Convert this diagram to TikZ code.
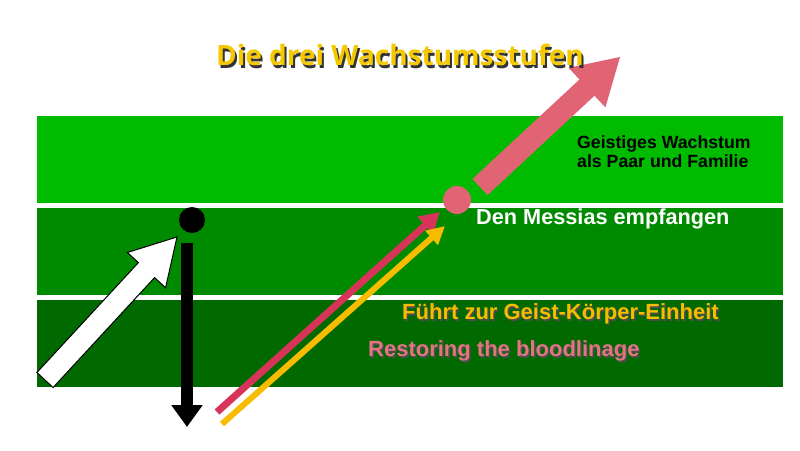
\documentclass[tikz,border=0pt]{standalone}
\usepackage{fontspec}
\setmainfont{Liberation Sans}
\newfontfamily\titlefont{Open Sans}
\usetikzlibrary{arrows.meta}
\definecolor{g1}{HTML}{00BB00}
\definecolor{g2}{HTML}{008A00}
\definecolor{g3}{HTML}{006A00}
\definecolor{pinkc}{HTML}{E06474}
\definecolor{redc}{HTML}{D8345A}
\definecolor{yel}{HTML}{F7BC00}
\definecolor{ttl}{HTML}{F5C800}
\tikzset{
 lbl/.style={anchor=west,font=\bfseries\fontsize{22}{24}\selectfont,inner sep=0}}
\begin{document}
\begin{tikzpicture}[x=1pt,y=-1pt]
\useasboundingbox (0,0) rectangle (800,450);
\fill[g1] (37,116) rectangle (783,203);
\fill[g2] (37,208) rectangle (783,295);
\fill[g3] (37,300) rectangle (783,387);
% white block arrow
\draw[fill=white,draw=black,line width=1pt,line join=miter]
 (53.1,387.5) -- (154.6,277.6) -- (165.6,287.7) -- (177,237) -- (127.4,252.5) -- (138.4,262.6) -- (36.9,372.5) -- cycle;
% black arrow
\coordinate (bs) at (187,243);
\coordinate (be) at (187,427);
\draw[line width=12pt,-{Triangle[width=30pt,length=22pt]}] (bs) -- (be);
\node[circle,fill=black,minimum size=26pt,inner sep=0] (bc) at (192,220) {};
% red and yellow
\coordinate (rs) at (217,412); \coordinate (re) at (440,212);
\coordinate (ys) at (222,424); \coordinate (ye) at (445,226);
\draw[redc,line width=7pt,-{Triangle[width=22pt,length=20pt]}] (rs) -- (re);
\draw[yel,line width=6pt,-{Triangle[width=18pt,length=18pt]}] (ys) -- (ye);
\node[circle,fill=pinkc,minimum size=28pt,inner sep=0] (pc) at (457,200) {};
% big pink arrow
\fill[pinkc] (487.5,195.1) -- (594.5,95.7) -- (605.4,107.4) -- (620,57) -- (568.6,67.8) -- (579.5,79.5) -- (472.5,178.9) -- cycle;
% texts
\node[font=\titlefont\bfseries\fontsize{28}{32}\selectfont,text=black!80,inner sep=0] at (402,57.5) {Die drei Wachstumsstufen};
\node[font=\titlefont\bfseries\fontsize{28}{32}\selectfont,text=ttl,inner sep=0] (title) at (400,55) {Die drei Wachstumsstufen};
\node[anchor=north west,font=\bfseries\fontsize{17.7}{19.5}\selectfont,align=left,inner sep=0] (gw) at (577,135) {Geistiges Wachstum\\als Paar und Familie};
\node[anchor=west,inner sep=0,text=white,font=\bfseries\fontsize{21.7}{24}\selectfont] (dm) at (476,218.5) {Den Messias empfangen};
\node[lbl,text=black!70] at (403.5,315.5) {Führt zur Geist-Körper-Einheit};
\node[lbl,text=yel] (fz) at (402,314) {Führt zur Geist-Körper-Einheit};
\node[lbl,text=black!70] at (369.5,352.5) {Restoring the bloodlinage};
\node[lbl,text=pinkc!90!white] (rb) at (368,351) {Restoring the bloodlinage};
\end{tikzpicture}
\end{document}
